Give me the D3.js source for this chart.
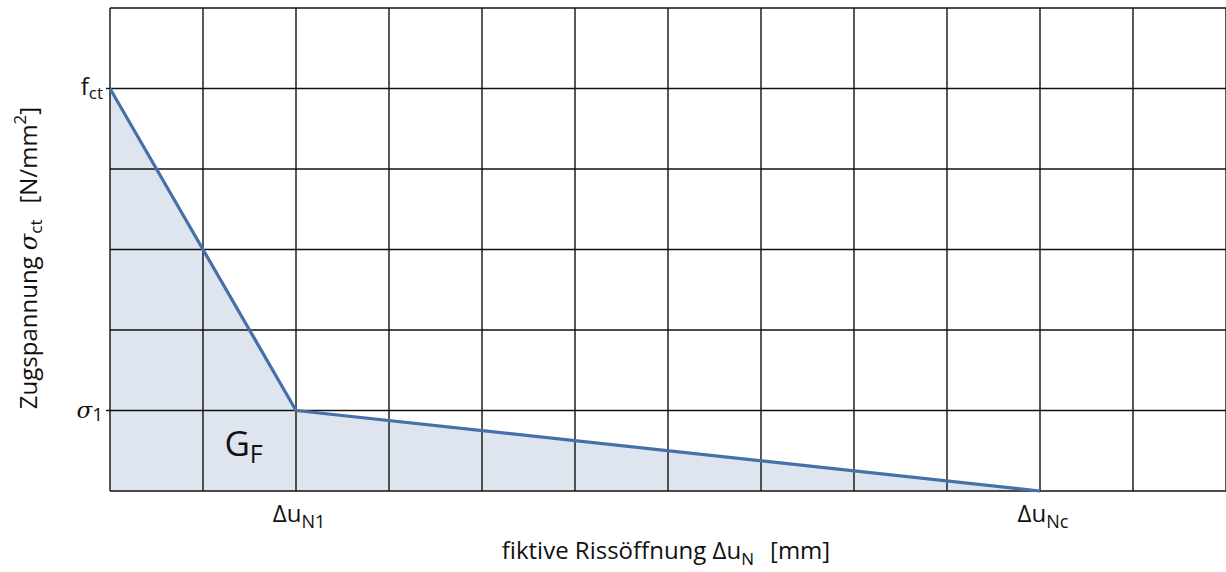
<!DOCTYPE html>
<html>
<head>
<meta charset="utf-8">
<script src="https://cdn.jsdelivr.net/npm/d3@7"></script>
<style>
  html,body{margin:0;padding:0;background:#fff;}
  svg{display:block;}
  .lbl{font-family:"Open Sans",sans-serif;fill:#111;}
  .sym{font-family:"DejaVu Serif",serif;font-style:italic;fill:#111;}
</style>
</head>
<body>
<svg id="chart" width="1226" height="572"></svg>
<script>
// grid units: 12 columns x 6 rows
const xDomain = [0, 12];
const yDomain = [0, 6];
const curveX = [0, 2, 10];
const curveY = [5, 1, 0];
const xTickVals = [2, 10];
const xTickMain = ['\u0394u', '\u0394u'];
const xTickSub = ['N1', 'Nc'];
const yTickVals = [5, 1];

const svg = d3.select('#chart');
const margin = { left: 110, right: 0, top: 8, bottom: 81 };
const W = 1226, H = 572;
const x = d3.scaleLinear().domain(xDomain).range([margin.left, W - margin.right]);
const y = d3.scaleLinear().domain(yDomain).range([H - margin.bottom, margin.top]);

const pts = curveX.map((d, i) => ({ x: d, y: curveY[i] }));

// filled area under the curve
svg.append('path').datum(pts)
  .attr('fill', '#dfe5ef')
  .attr('d', d3.area().x(d => x(d.x)).y0(y(0)).y1(d => y(d.y)));

// grid
const g = svg.append('g').attr('stroke', '#111').attr('stroke-width', 1.4);
g.selectAll('line.v').data(d3.range(xDomain[0], xDomain[1] + 1)).join('line')
  .attr('x1', d => x(d)).attr('x2', d => x(d))
  .attr('y1', y(0)).attr('y2', y(6));
g.selectAll('line.h').data(d3.range(yDomain[0], yDomain[1] + 1)).join('line')
  .attr('y1', d => y(d)).attr('y2', d => y(d))
  .attr('x1', x(0)).attr('x2', x(12));

// curve
svg.append('path').datum(pts)
  .attr('fill', 'none').attr('stroke', '#4471a8').attr('stroke-width', 3.2)
  .attr('stroke-linejoin', 'round')
  .attr('d', d3.line().x(d => x(d.x)).y(d => y(d.y)));

// y ticks
svg.selectAll('line.yt').data(yTickVals).join('line')
  .attr('x1', x(0) - 4).attr('x2', x(0))
  .attr('y1', d => y(d)).attr('y2', d => y(d))
  .attr('stroke', '#111').attr('stroke-width', 1.4);

// y tick labels
const fct = svg.append('text').attr('class', 'lbl').attr('x', 103).attr('y', y(5) + 6)
  .attr('text-anchor', 'end').attr('font-size', 24);
fct.append('tspan').text('f');
fct.append('tspan').attr('font-size', 17).attr('dy', 4).text('ct');

const s1 = svg.append('text').attr('x', 103).attr('y', y(1) + 7).attr('text-anchor', 'end');
s1.append('tspan').attr('class', 'sym').attr('font-size', 23).text('\u03c3');
s1.append('tspan').attr('class', 'lbl').attr('font-size', 19).attr('dy', 3).text('1');

// x tick labels
xTickVals.forEach((v, i) => {
  const t = svg.append('text').attr('class', 'lbl').attr('x', x(v) + 3).attr('y', 522)
    .attr('text-anchor', 'middle').attr('font-size', 24);
  t.append('tspan').text(xTickMain[i]);
  t.append('tspan').attr('font-size', 18).attr('dy', 6).text(xTickSub[i]);
});

// G_F label
const gf = svg.append('text').attr('class', 'lbl').attr('x', x(1.23)).attr('y', y(0.44))
  .attr('font-size', 35);
gf.append('tspan').text('G');
gf.append('tspan').attr('font-size', 25).attr('dy', 7).text('F');

// x axis title
const xt = svg.append('text').attr('class', 'lbl').attr('x', 666).attr('y', 559)
  .attr('text-anchor', 'middle').attr('font-size', 24);
xt.append('tspan').text('fiktive Riss\u00f6ffnung \u0394u');
xt.append('tspan').attr('font-size', 17).attr('dy', 6).text('N');
xt.append('tspan').attr('dy', -6).attr('dx', 16).text('[mm]');

// y axis title
const yt = svg.append('text').attr('transform', 'translate(37,258) rotate(-90)')
  .attr('text-anchor', 'middle');
yt.append('tspan').attr('class', 'lbl').attr('font-size', 24).text('Zugspannung ');
yt.append('tspan').attr('class', 'sym').attr('font-size', 24).text('\u03c3');
yt.append('tspan').attr('class', 'lbl').attr('font-size', 17).attr('dy', 5).text('ct');
yt.append('tspan').attr('class', 'lbl').attr('font-size', 24).attr('dy', -5).attr('dx', 16).text('[N/mm');
yt.append('tspan').attr('class', 'lbl').attr('font-size', 17).attr('dy', -11).text('2');
yt.append('tspan').attr('class', 'lbl').attr('font-size', 24).attr('dy', 11).text(']');
</script>
</body>
</html>
